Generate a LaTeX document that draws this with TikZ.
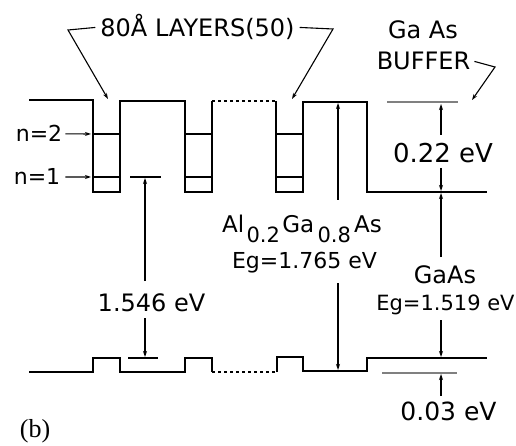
\documentclass[tikz,border=0pt]{standalone}
\usepackage{fontspec}
\setmainfont{DejaVu Sans}
\newfontfamily\serifb{Liberation Serif}
\usetikzlibrary{arrows.meta}
\newcommand{\subx}[2]{\makebox[#1pt][c]{\raisebox{-10pt}{\fontsize{21}{21}\selectfont #2}}}
\begin{document}
\begin{tikzpicture}[x=1pt,y=-1pt,
  band/.style={line width=1.6pt},
  lvl/.style={line width=1.3pt},
  ann/.style={line width=1.1pt},
  tip/.style={-{Stealth[length=6pt,width=4pt]}},
  lab/.style={inner sep=0pt, anchor=base, font=\fontsize{24}{24}\selectfont},
  labs/.style={lab, font=\fontsize{22}{22}\selectfont}]
\useasboundingbox (0,0) rectangle (516,446);
% conduction band
\draw[band] (29,100) -- (93,100) -- (93,192) -- (120,192) -- (120,101) -- (185,101) -- (185,192) -- (212,192) -- (212,101);
\draw[band,dashed] (212,101) -- (276,101);
\draw[band] (276,101) -- (276,192) -- (303,192) -- (303,102) -- (367,102) -- (367,192) -- (487,192);
\foreach \a/\b in {93/120,185/212,276/303} {
  \draw[lvl] (\a,134) -- (\b,134);
  \draw[lvl] (\a,177) -- (\b,177);
}
\draw[band,gray] (387,102) -- (458,102);
% valence band
\draw[band] (29,372) -- (93,372) -- (93,358) -- (120,358) -- (120,372) -- (185,372) -- (185,358) -- (212,358) -- (212,372);
\draw[band,dashed] (212,372) -- (277,372);
\draw[band] (277,372) -- (277,357) -- (303,357) -- (303,371) -- (367,371) -- (367,358) -- (487,358);
\draw[band,gray] (382,373) -- (457,373);
% level ticks
\draw[lvl] (130,177) -- (161,177);
\draw[lvl] (128,358) -- (158,358);
% labels
\node[lab] (layers) at (197.5,37) {80Å LAYERS(50)};
\draw[ann,tip] ([xshift=-5pt]layers.west) -- (68,30) -- (108,99);
\draw[ann,tip] ([xshift=5pt]layers.east) -- (333,29) -- (292,99);
\node[lab] (gaas1) at (423,39) {Ga As};
\node[lab] (buffer) at (423.5,70) {BUFFER};
\draw[ann,tip] ([xshift=4pt]buffer.east) -- (495,67) -- (472,100);
\node[labs] (n2) at (39,142) {n=2};
\draw[ann,tip] ([xshift=3pt]n2.east) -- (91,134);
\node[labs] (n1) at (37,185) {n=1};
\draw[ann,tip] ([xshift=5pt]n1.east) -- (91,177);
% 0.22 eV
\node[lab, font=\fontsize{26}{26}\selectfont] (e022) at (443,163) {0.22 eV};
\draw[ann,tip] (441,135) -- (441,104);
\draw[ann,tip] (441,168) -- (441,191);
% 1.519 eV
\node[lab] (gaas2) at (445,283) {GaAs};
\node[lab, font=\fontsize{21}{21}\selectfont] (eg2) at (445.5,310) {Eg=1.519 eV};
\draw[ann,tip] (441,257) -- (441,193);
\draw[ann,tip] (441,320) -- (441,357);
% 0.03 eV
\node[lab, font=\fontsize{25}{25}\selectfont] (e003) at (448.5,420) {0.03 eV};
\draw[ann,tip] (441,396) -- (441,374);
% 1.546 eV
\node[lab] (e1546) at (151.5,311) {1.546 eV};
\draw[ann,tip] (145,281) -- (145,178);
\draw[ann,tip] (145,318) -- (145,357);
% 1.765 eV
\node[lab, anchor=base west, font=\fontsize{23}{23}\selectfont] (al) at (222,233) {Al\subx{38}{0.2}Ga\subx{40}{0.8}As};
\node[labs] (eg1) at (304.5,268) {Eg=1.765 eV};
\draw[ann,tip] (338,200) -- (338,103);
\draw[ann,tip] (338,283) -- (338,370);
% panel label
\node[lab, font=\serifb\fontsize{26}{26}\selectfont] (b) at (35,437) {(b)};
\end{tikzpicture}
\end{document}
